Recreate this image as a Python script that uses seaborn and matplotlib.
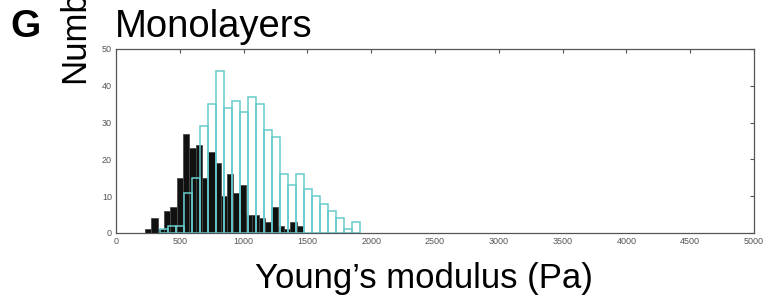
import numpy as np
import pandas as pd
import matplotlib
matplotlib.use("Agg")
import matplotlib.pyplot as plt
import seaborn as sns

# Histogram counts (25 bins each)
black_counts = [1, 4, 1, 6, 7, 15, 27, 23, 24, 15, 22, 19, 10,
                16, 11, 13, 5, 5, 4, 3, 7, 2, 1, 3, 2]
black_start, black_stop = 227, 1466

cyan_counts = [1, 2, 2, 11, 15, 29, 35, 44, 34, 36, 33, 37, 35,
               28, 26, 16, 13, 16, 12, 10, 8, 6, 4, 1, 3]
cyan_start, cyan_stop = 345, 1912

x_ticks = [0, 500, 1000, 1500, 2000, 2500, 3000, 3500, 4000, 4500, 5000]
y_ticks = [0, 10, 20, 30, 40, 50]

black_edges = np.linspace(black_start, black_stop, len(black_counts) + 1)
cyan_edges = np.linspace(cyan_start, cyan_stop, len(cyan_counts) + 1)
black_df = pd.DataFrame({'E': (black_edges[:-1] + black_edges[1:]) / 2,
                         'n': black_counts})
cyan_df = pd.DataFrame({'E': (cyan_edges[:-1] + cyan_edges[1:]) / 2,
                        'n': cyan_counts})

sns.set_style("white")
plt.rcParams['font.family'] = ['Liberation Sans', 'DejaVu Sans']

fig = plt.figure(figsize=(7.7, 2.96), dpi=100)
ax = fig.add_axes([116 / 770, 63 / 296, 638 / 770, 184 / 296])

sns.histplot(data=black_df, x='E', weights='n', bins=list(black_edges),
             color='#111111', edgecolor='#4a4a4a', linewidth=0.6,
             alpha=1, ax=ax)
sns.histplot(data=cyan_df, x='E', weights='n', bins=list(cyan_edges),
             fill=False, color='#66cccc', linewidth=1.1, ax=ax)

ax.set_xlim(0, 5000)
ax.set_ylim(0, 50)
ax.set_xticks(x_ticks)
ax.set_yticks(y_ticks)
ax.set_xlabel('')
ax.set_ylabel('')
ax.tick_params(direction='in', length=3, width=0.8, colors='#555555',
               labelsize=6.5, top=True, right=True, pad=3)
for s in ax.spines.values():
    s.set_color('#555555')
    s.set_linewidth(0.9)

fig.text(10 / 770, 1 - 37 / 296, 'G', fontsize=28, fontweight='bold',
         color='black', ha='left', va='baseline')
fig.text(115 / 770, 1 - 37 / 296, 'Monolayers', fontsize=27.5,
         color='black', ha='left', va='baseline')
fig.text(75 / 770, 1 - 83 / 296, 'Number', fontsize=25, rotation=90,
         color='black', ha='center', va='bottom')
fig.text(424 / 770, 1 - 288 / 296, 'Young\u2019s modulus (Pa)', fontsize=25,
         color='black', ha='center', va='baseline')

fig.savefig('out.png', dpi=100)
